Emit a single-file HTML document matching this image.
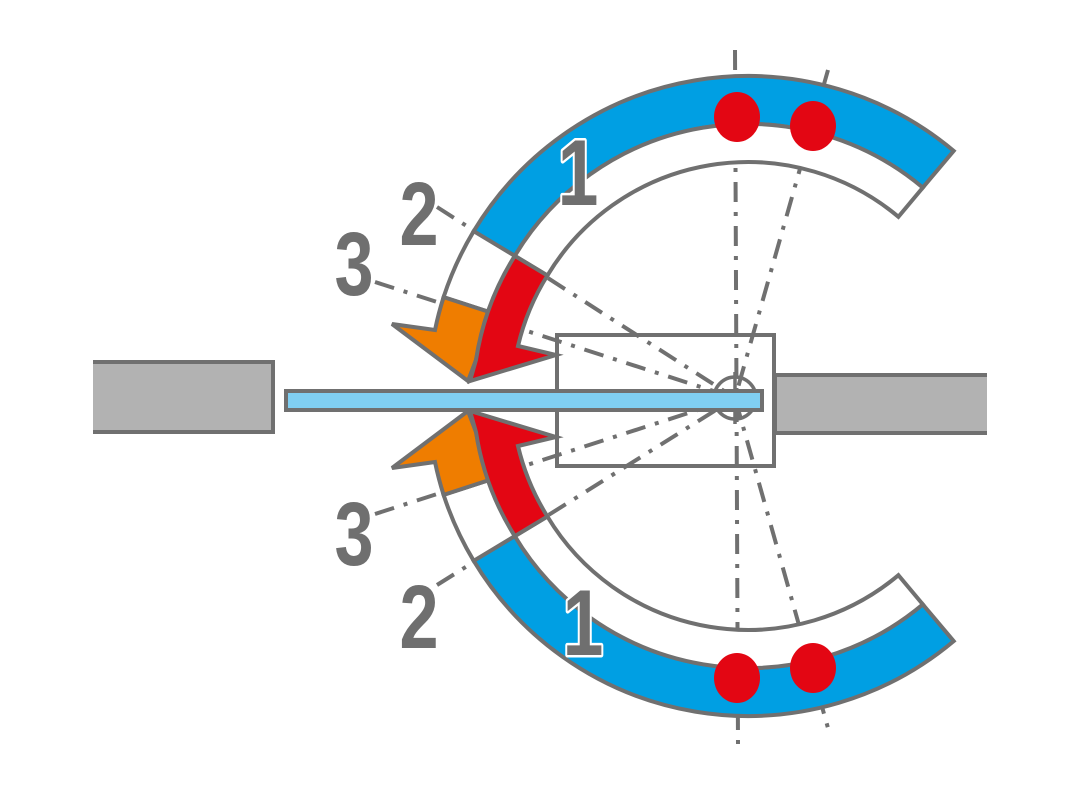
<!DOCTYPE html>
<html><head><meta charset="utf-8"><style>
html,body{margin:0;padding:0;background:#fff;}
svg{display:block;}
text{font-family:"Liberation Sans",sans-serif;font-weight:bold;fill:#6f6f6f;}
</style></head><body>
<svg width="1080" height="785" viewBox="0 0 1080 785" xmlns="http://www.w3.org/2000/svg">
<path d="M93 362 H273 V432 H93" fill="#b2b2b2" stroke="#707070" stroke-width="4"/>
<path d="M987 375 H775 V433 H987" fill="#b2b2b2" stroke="#707070" stroke-width="4"/>
<rect x="557" y="335" width="217" height="131" fill="#fff" stroke="#707070" stroke-width="4"/>
<g stroke="#707070" stroke-width="4" fill="none" stroke-dasharray="20 10 4 10">
<line x1="735" y1="50" x2="738" y2="745"/>
<line x1="828" y1="70" x2="735" y2="398"/>
<line x1="735" y1="398" x2="828" y2="728"/>
<line x1="437" y1="207" x2="735" y2="398"/>
<line x1="437" y1="585" x2="735" y2="398"/>
<line x1="375" y1="282" x2="735" y2="398"/>
<line x1="375" y1="514" x2="735" y2="398"/>
</g>
<g stroke="#707070" stroke-width="4">
<path d="M953.7 150.9 A320 320 0 0 0 473.7 231.2 L514.8 255.9 A272 272 0 0 1 922.8 187.6 Z" fill="#009fe3"/>
<path d="M922.8 187.6 A272 272 0 0 0 514.8 255.9 L547.4 275.5 A234 234 0 0 1 898.4 216.8 Z" fill="#fff"/>
<path d="M473.7 231.2 A320 320 0 0 0 443.6 297.1 L489.3 312 A272 272 0 0 1 514.8 255.9 Z" fill="#fff"/>
<path d="M443.6 297.1 A320 320 0 0 0 435 330 L392 324 L468 381 L476 360 A272 272 0 0 1 489.3 312 Z" fill="#ef7d00"/>
<path d="M514.8 255.9 A272 272 0 0 0 476 360 L470 381 L556 355 L518 346 A234 234 0 0 1 547.4 275.5 Z" fill="#e30613"/>
</g>
<g transform="translate(0,792) scale(1,-1)" stroke="#707070" stroke-width="4">
<path d="M953.7 150.9 A320 320 0 0 0 473.7 231.2 L514.8 255.9 A272 272 0 0 1 922.8 187.6 Z" fill="#009fe3"/>
<path d="M922.8 187.6 A272 272 0 0 0 514.8 255.9 L547.4 275.5 A234 234 0 0 1 898.4 216.8 Z" fill="#fff"/>
<path d="M473.7 231.2 A320 320 0 0 0 443.6 297.1 L489.3 312 A272 272 0 0 1 514.8 255.9 Z" fill="#fff"/>
<path d="M443.6 297.1 A320 320 0 0 0 435 330 L392 324 L468 381 L476 360 A272 272 0 0 1 489.3 312 Z" fill="#ef7d00"/>
<path d="M514.8 255.9 A272 272 0 0 0 476 360 L470 381 L556 355 L518 346 A234 234 0 0 1 547.4 275.5 Z" fill="#e30613"/>
</g>
<g fill="#e30613">
<ellipse cx="737" cy="117" rx="23" ry="25"/>
<ellipse cx="813" cy="126" rx="23" ry="25"/>
<ellipse cx="737" cy="678" rx="23" ry="25"/>
<ellipse cx="813" cy="668" rx="23" ry="25"/>
</g>
<circle cx="735" cy="398" r="21" fill="none" stroke="#707070" stroke-width="3.5"/>
<line x1="735" y1="372" x2="735" y2="424" stroke="#707070" stroke-width="3.5"/>
<rect x="286" y="391" width="476" height="19" fill="#80cff2" stroke="#707070" stroke-width="4"/>
<g font-size="90" text-anchor="middle">
<text transform="translate(419,245) scale(0.78,1)">2</text>
<text transform="translate(354,295) scale(0.78,1)">3</text>
<text transform="translate(354,565) scale(0.78,1)">3</text>
<text transform="translate(419,648) scale(0.78,1)">2</text>
</g>
<g font-size="94" text-anchor="middle" stroke="#fff" stroke-width="5" paint-order="stroke" stroke-linejoin="round">
<text transform="translate(578,205) scale(0.78,1)">1</text>
<text transform="translate(583,655) scale(0.78,1)">1</text>
</g>
</svg>
</body></html>
